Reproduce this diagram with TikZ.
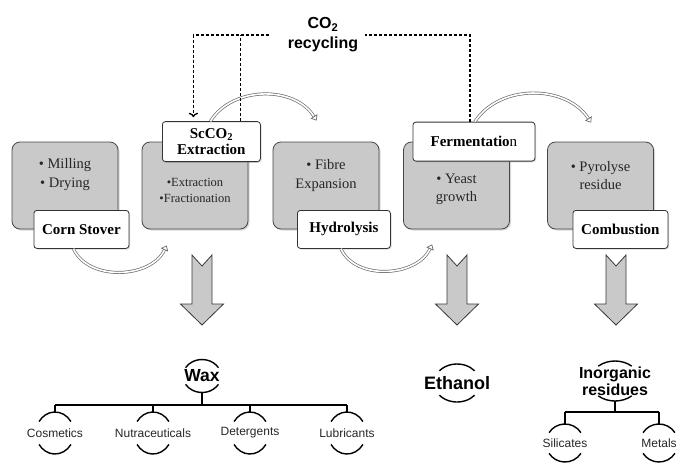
\documentclass[tikz,border=0pt]{standalone}
\usepackage{fontspec}
\setmainfont{Liberation Serif}
\setsansfont{Liberation Sans}
\usetikzlibrary{arrows.meta,positioning,shadows,calc}
\tikzset{
  stage/.style={draw=gray!55!black, fill=gray!42, rounded corners=8pt, line width=0.8pt,
    minimum width=106pt, minimum height=87pt,
    drop shadow={opacity=0.3,shadow xshift=1.5pt,shadow yshift=-1.5pt}},
  body/.style={align=center, text=black!85, font=\fontsize{14.5}{18.5}\selectfont},
  tag/.style={draw=gray!40!black, fill=white, rounded corners=3pt, line width=0.8pt,
    minimum height=38pt, align=center, font=\bfseries\fontsize{15}{16}\selectfont,
    drop shadow={opacity=0.3,shadow xshift=1.2pt,shadow yshift=-1.2pt}},
  flow/.style={draw=gray!85!black, double=white, line width=0.7pt, double distance=1.6pt,
    -{Triangle[open,length=5pt,width=8pt]}},
  recycle/.style={line width=1.3pt, dash pattern=on 3pt off 2pt},
  branch/.style={line width=1.4pt},
  prod/.style={align=center, font=\sffamily\bfseries\fontsize{17.5}{19}\selectfont},
  enduse/.style={text=black!85, font=\sffamily\fontsize{12}{14}\selectfont},
  yield/.style={draw=gray!45!black, fill=gray!42, line width=0.8pt}
}
\begin{document}
\begin{tikzpicture}[x=1pt,y=1pt,>=To]
  \path[use as bounding box] (0,0) rectangle (680,-464);
  \clip (0,0) rectangle (680,-464);

  % process stages
  \node[stage] (b1) at (65,-185.5) {};
  \node[stage] (b2) at (195,-185.5) {};
  \node[stage] (b3) at (326,-185.5) {};
  \node[stage] (b4) at (456.5,-185.5) {};
  \node[stage] (b5) at (600.5,-185.5) {};

  \node[body] (t1) at ([yshift=11]b1.center) {\textbullet\ Milling\\\textbullet\ Drying};
  \node[body, font=\fontsize{12.5}{16}\selectfont] (t2) at ([yshift=-4.5]b2.center) {\textbullet Extraction\\\textbullet Fractionation};
  \node[body] (t3) at ([yshift=10]b3.center) {\textbullet\ Fibre\\Expansion};
  \node[body] (t4) at ([yshift=-4]b4.center) {\textbullet\ Yeast\\growth};
  \node[body] (t5) at ([yshift=10]b5.center) {\textbullet\ Pyrolyse\\residue};

  \node[tag, minimum width=95pt] (corn) at ([xshift=-37]b1.south east) {Corn Stover};
  \node[tag, minimum width=98pt, minimum height=40pt] (scco) at ([xshift=-37]b2.north east) {ScCO\textsubscript{2}\\Extraction};
  \node[tag, minimum width=93pt] (hydro) at ([xshift=-35.5]b3.south east) {Hydrolysis};
  \node[tag, minimum width=122pt, minimum height=39pt] (ferm) at ([xshift=-36]b4.north east) {Fermentatio\textmd{n}};
  \node[tag, minimum width=95pt] (comb) at ([xshift=-33.5]b5.south east) {Combustion};

  % curved flow arrows
  \draw[flow] ([xshift=-8]corn.south) to[out=-65,in=245] ([shift={(25,-16)}]b2.south west);
  \draw[flow] ([xshift=-1]scco.north) to[out=58,in=122] ([shift={(44,21)}]b3.north west);
  \draw[flow] ([xshift=-3]hydro.south) to[out=-65,in=245] ([shift={(29,-15)}]b4.south west);
  \draw[flow] ([xshift=1]ferm.north) to[out=57,in=123] ([shift={(44,19)}]b5.north west);

  % CO2 recycling loop
  \node[font=\sffamily\bfseries\fontsize{16}{20}\selectfont, align=center, inner xsep=7pt] (co2) at (323,-35) {CO\textsubscript{2}\\recycling};
  \coordinate (split) at ([xshift=29]scco.north);
  \draw[recycle] ([xshift=-4]ferm.north) |- (co2.east);
  \draw[recycle,->] ([xshift=-12]co2.west) -| ([xshift=-18,yshift=4]scco.north);
  \draw[recycle] (split) -- (split |- co2.west);

  % product arrows
  \foreach \cx in {202,457,616}
    \draw[yield] (\cx-10,-255) -- (\cx,-266) -- (\cx+10,-255) -- (\cx+10,-304)
      -- (\cx+21.5,-304) -- (\cx,-325) -- (\cx-21.5,-304) -- (\cx-10,-304) -- cycle;

  % products
  \node[prod] (wax) at (202,-376) {Wax};
  \node[prod, font=\sffamily\bfseries\fontsize{18}{19}\selectfont] (eth) at (457,-383) {Ethanol};
  \node[prod, font=\sffamily\bfseries\fontsize{16}{17}\selectfont] (inorg) at (615,-381) {Inorganic\\residues};

  \node[enduse] (cos) at (55,-433) {Cosmetics};
  \node[enduse] (nut) at (153,-433) {Nutraceuticals};
  \node[enduse] (det) at (250,-433) {Detergents};
  \node[enduse] (lub) at (347,-433) {Lubricants};
  \node[enduse] (sil) at (565,-443) {Silicates};
  \node[enduse] (met) at (659,-443) {Metals};

  % hierarchy lines
  \coordinate (waxbus) at (202,-405);
  \coordinate (inbus) at (615,-412);
  \draw[branch] ([yshift=-17]wax.center) -- (waxbus);
  \draw[branch] (cos |- waxbus) -- (lub |- waxbus);
  \foreach \n in {cos,nut,det,lub}
    \draw[branch] (\n |- waxbus) -- ([yshift=21]\n.center);
  \draw[branch] ([yshift=-20]inorg.center) -- (inbus);
  \draw[branch] (sil |- inbus) -- (met |- inbus);
  \foreach \n in {sil,met}
    \draw[branch] (\n |- inbus) -- ([yshift=19]\n.center);

  % arcs round the product labels
  \foreach \n/\rx/\ry/\a/\b in {wax/19/16.5/30/150, eth/23/19/40/140, inorg/25/20/48/132,
      cos/19/21/33/147, nut/19/21/33/147, det/19/21/33/147, lub/19/21/33/147,
      sil/19/19/33/147, met/19/19/33/147}
    \draw[branch] ([shift={(\a:{\rx} and {\ry})}]\n.center) arc[start angle=\a, end angle=\b, x radius=\rx, y radius=\ry]
      ([shift={(-\a:{\rx} and {\ry})}]\n.center) arc[start angle=-\a, end angle=-\b, x radius=\rx, y radius=\ry];
\end{tikzpicture}
\end{document}
